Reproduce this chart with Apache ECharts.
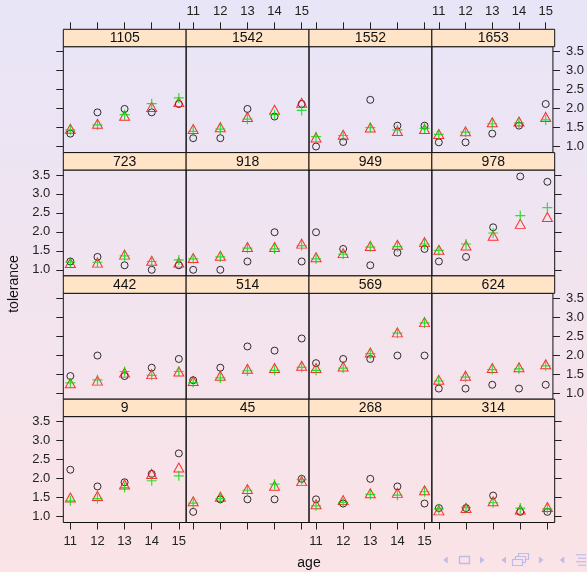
<!DOCTYPE html>
<html><head><meta charset="utf-8">
<script src="https://cdn.jsdelivr.net/npm/echarts@6/dist/echarts.min.js"></script>
<style>html,body{margin:0;padding:0;}#c{width:587px;height:572px;}</style>
</head><body><div id="c"></div><script>
const ages = [11, 12, 13, 14, 15];
const yTicks = [1.0, 1.5, 2.0, 2.5, 3.0, 3.5];
// panels listed top row first, left to right
const panelIds = ['1105','1542','1552','1653','723','918','949','978','442','514','569','624','9','45','268','314'];
const observed = [
  [1.34,1.90,1.99,1.90,2.12],[1.22,1.22,1.99,1.79,2.12],[1.00,1.12,2.23,1.55,1.55],[1.11,1.11,1.34,1.55,2.12],
  [1.22,1.34,1.12,1.00,1.12],[1.00,1.00,1.22,1.99,1.22],[1.99,1.55,1.12,1.45,1.55],[1.22,1.34,2.12,3.46,3.32],
  [1.45,1.99,1.45,1.67,1.90],[1.34,1.67,2.23,2.12,2.44],[1.79,1.90,1.90,1.99,1.99],[1.12,1.12,1.22,1.12,1.22],
  [2.23,1.79,1.90,2.12,2.66],[1.12,1.45,1.45,1.45,1.99],[1.45,1.34,1.99,1.79,1.34],[1.22,1.22,1.55,1.12,1.12]
];
const fitRed = [
  [1.47,1.60,1.81,2.04,2.17],[1.46,1.51,1.78,1.97,2.15],[1.24,1.31,1.50,1.41,1.46],[1.33,1.40,1.64,1.66,1.78],
  [1.18,1.19,1.40,1.24,1.19],[1.31,1.37,1.60,1.60,1.69],[1.33,1.44,1.63,1.66,1.73],[1.53,1.64,1.90,2.21,2.39],
  [1.26,1.33,1.54,1.50,1.57],[1.32,1.46,1.64,1.66,1.72],[1.66,1.70,2.07,2.60,2.87],[1.35,1.46,1.66,1.68,1.76],
  [1.50,1.54,1.84,2.12,2.29],[1.40,1.52,1.72,1.81,1.93],[1.32,1.43,1.61,1.62,1.69],[1.16,1.22,1.40,1.18,1.25]
];
const fitGreen = [
  [1.44,1.57,1.84,2.13,2.28],[1.40,1.46,1.72,1.84,1.95],[1.26,1.29,1.50,1.44,1.48],[1.32,1.38,1.60,1.62,1.70],
  [1.20,1.20,1.37,1.22,1.26],[1.29,1.34,1.57,1.55,1.64],[1.29,1.41,1.60,1.61,1.68],[1.51,1.68,1.97,2.43,2.64],
  [1.27,1.35,1.57,1.47,1.57],[1.28,1.40,1.59,1.60,1.68],[1.60,1.66,2.04,2.58,2.85],[1.32,1.42,1.62,1.64,1.72],
  [1.41,1.47,1.76,1.94,2.07],[1.35,1.47,1.69,1.85,1.97],[1.28,1.37,1.58,1.56,1.65],[1.20,1.23,1.36,1.22,1.20]
];

const L0 = 63.3, colW = 122.85, T0 = 29.3, rowH = 123.3, stripH = 17.4, panelH = 105.9;
const FONT = 'Liberation Sans, Arial, sans-serif';
const grids = [], xAxes = [], yAxes = [], series = [], graphics = [];
panelIds.forEach((id, i) => {
  const r = Math.floor(i / 4), c = i % 4;
  const left = L0 + c * colW, stripTop = T0 + r * rowH;
  grids.push({left: left, top: stripTop + stripH, width: colW, height: panelH,
    show: true, borderColor: '#111', borderWidth: 1, backgroundColor: 'transparent', containLabel: false});
  const xTicks = (r === 0 || r === 3);
  const xLab = (r === 0 && c % 2 === 1) || (r === 3 && c % 2 === 0);
  xAxes.push({type: 'value', gridIndex: i, min: 10.74, max: 15.27,
    position: r === 0 ? 'top' : 'bottom', offset: r === 0 ? stripH : 0,
    splitLine: {show: false}, axisLine: {show: false},
    axisTick: {show: xTicks, length: 7, inside: false, customValues: ages, lineStyle: {color: '#222'}},
    axisLabel: {show: xLab, customValues: ages, margin: r === 0 ? 11 : 12, color: '#222', fontSize: 13, fontFamily: FONT}
  });
  const yT = (c === 0 || c === 3);
  const yLab = (c === 0 && r % 2 === 1) || (c === 3 && r % 2 === 0);
  yAxes.push({type: 'value', gridIndex: i, min: 0.84, max: 3.63,
    position: c === 0 ? 'left' : 'right',
    splitLine: {show: false}, axisLine: {show: false},
    axisTick: {show: yT, length: 7, inside: false, customValues: yTicks, lineStyle: {color: '#222'}},
    axisLabel: {show: yLab, customValues: yTicks, margin: 13, color: '#222', fontSize: 13, fontFamily: FONT,
      formatter: v => Number(v).toFixed(1)}
  });
  series.push({type: 'scatter', xAxisIndex: i, yAxisIndex: i, symbol: 'circle', symbolSize: 7,
    itemStyle: {color: 'rgba(0,0,0,0)', borderColor: '#000', borderWidth: 1},
    data: ages.map((a, k) => [a, observed[i][k]])});
  series.push({type: 'scatter', xAxisIndex: i, yAxisIndex: i, symbol: 'triangle', symbolSize: [10, 9],
    itemStyle: {color: 'rgba(0,0,0,0)', borderColor: '#ff0000', borderWidth: 1},
    data: ages.map((a, k) => [a, fitRed[i][k]])});
  series.push({type: 'scatter', xAxisIndex: i, yAxisIndex: i, symbol: 'path://M5,0L5,10M0,5L10,5', symbolSize: 10,
    itemStyle: {color: 'rgba(0,0,0,0)', borderColor: '#00dd00', borderWidth: 1.2},
    data: ages.map((a, k) => [a, fitGreen[i][k]])});
  graphics.push({type: 'rect', shape: {x: left, y: stripTop, width: colW, height: stripH},
    style: {fill: '#ffe4c8', stroke: '#111', lineWidth: 1}, z: 10});
  graphics.push({type: 'text', x: left + colW / 2, y: stripTop + stripH / 2 + 0.5,
    style: {text: id, fill: '#111', font: '14px ' + FONT, textAlign: 'center', textVerticalAlign: 'middle'}, z: 11});
});
graphics.push({type: 'text', x: 14, y: 284, rotation: Math.PI / 2,
  style: {text: 'tolerance', fill: '#111', font: '14px ' + FONT, textAlign: 'center', textVerticalAlign: 'middle'}});
graphics.push({type: 'text', x: 309, y: 563,
  style: {text: 'age', fill: '#111', font: '14px ' + FONT, textAlign: 'center', textVerticalAlign: 'middle'}});
// beamer navigation symbols
const navC = '#bfbbe8', ny = 560;
const tri = (cx, dir) => ({type: 'polygon', shape: {points: dir < 0 ? [[cx+2,ny-3.5],[cx+2,ny+3.5],[cx-2.5,ny]] : [[cx-2,ny-3.5],[cx-2,ny+3.5],[cx+2.5,ny]]}, style: {fill: navC}});
graphics.push(tri(445.7, -1), tri(482, 1), tri(504, -1), tri(541, 1), tri(562.3, -1));
graphics.push({type: 'rect', shape: {x: 459.5, y: ny - 3.5, width: 10, height: 7}, style: {fill: 'none', stroke: navC, lineWidth: 1.4}});
graphics.push({type: 'rect', shape: {x: 518.5, y: ny - 6.5, width: 10, height: 6}, style: {fill: '#f8e4ec', stroke: navC, lineWidth: 1.2}});
graphics.push({type: 'rect', shape: {x: 515.5, y: ny - 3.5, width: 10, height: 6}, style: {fill: '#f8e4ec', stroke: navC, lineWidth: 1.2}});
graphics.push({type: 'rect', shape: {x: 512.5, y: ny - 0.5, width: 10, height: 6}, style: {fill: '#f8e4ec', stroke: navC, lineWidth: 1.2}});
[-5.25, -1.75, 1.75, 5.25].forEach((d, k) => graphics.push({type: 'line', shape: {x1: 576 + (k % 2 ? 2 : 0), y1: ny + d, x2: 586, y2: ny + d}, style: {stroke: navC, lineWidth: 1.2}}));

const chart = echarts.init(document.getElementById('c'), null, {renderer: 'canvas'});
chart.setOption({
  animation: false,
  backgroundColor: {type: 'linear', x: 0, y: 0, x2: 0, y2: 1, colorStops: [{offset: 0, color: '#e8e5f8'}, {offset: 1, color: '#fbe3e6'}]},
  grid: grids, xAxis: xAxes, yAxis: yAxes, series: series, graphic: graphics
});
</script></body></html>
